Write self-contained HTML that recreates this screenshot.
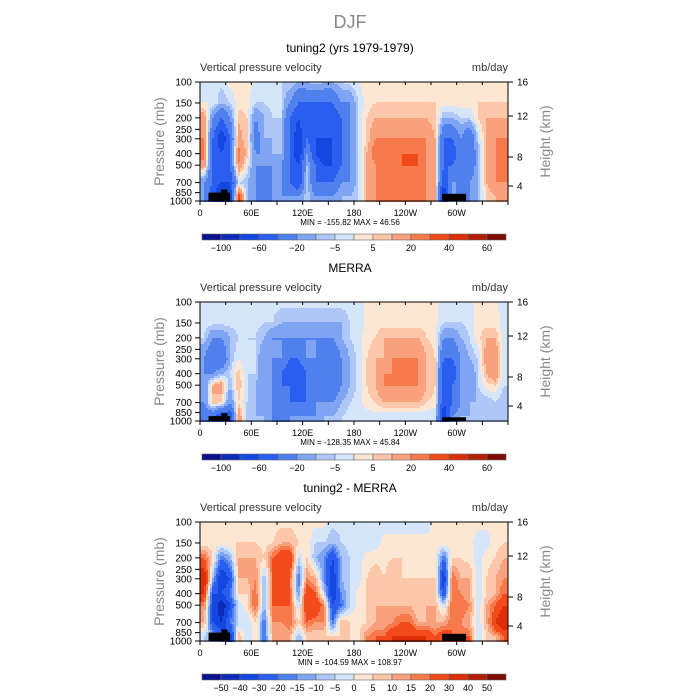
<!DOCTYPE html>
<html><head><meta charset="utf-8">
<style>
body{margin:0;background:#fff;}
#root{position:relative;width:700px;height:700px;overflow:hidden;font-family:"Liberation Sans",sans-serif;}
</style></head>
<body>
<div id="root">
<svg id="svg" width="700" height="700" style="position:absolute;left:0;top:0"></svg>
</div>
<script>
// ---- data ----
const lonCenters = [5,15,25,35,45,55,65,75,85,95,105,115,125,135,145,155,165,175,185,195,205,215,225,235,245,255,265,275,285,295,305,315,325,335,345,355];
const presLevels = [100,150,200,300,400,500,700,925];
const xTickLabels = ["0","60E","120E","180","120W","60W"];
const xTickLons = [0,60,120,180,240,300];
const pTicks = [100,150,200,250,300,400,500,700,850,1000];
const hTicks = [16,12,8,4];
const levelsAbs = [-100,-80,-60,-40,-20,-10,-5,0,5,10,20,30,40,50,60];
const labelsAbs = ["-100","","-60","","-20","","-5","","5","","20","","40","","60"];
const levelsDiff = [-50,-40,-30,-20,-15,-10,-5,0,5,10,15,20,30,40,50];
const labelsDiff = ["-50","-40","-30","-20","-15","-10","-5","0","5","10","15","20","30","40","50"];
const colors = ["#0a0f8c","#0b2bb8","#1446e0","#2a5ef0","#4f80ee","#7fa4f2","#aec7f6","#d6e6fa","#fde6d2","#fcc6aa","#f9a07c","#f77a4c","#f24a1a","#dd2e08","#b41e06","#7e0a04"];
// field columns: each entry = values at presLevels
const fieldModel = [
[-3,0,15,20,25,15,-20,-20],[-3,0,-20,-40,-40,-40,-40,-60],[-3,-10,-40,-80,-60,-60,-60,-100],[2,-5,-20,-40,-40,-40,-60,-80],
[2,3,8,15,25,20,-5,40],[3,2,5,5,8,0,-10,-10],[-2,-5,-20,-30,-20,-20,-20,-20],[-3,-5,-10,-10,-20,-20,-40,-40],
[-3,-3,-5,-10,-10,-20,-20,-20],[-5,-5,-5,-10,-10,-20,-20,-20],[-5,-20,-40,-40,-40,-40,-40,-20],[-10,-40,-60,-80,-80,-60,-60,-20],
[-10,-40,-40,-40,-20,-10,-5,-5],[-5,-40,-60,-60,-60,-40,-40,-20],[-10,-40,-60,-60,-80,-60,-40,-20],[-10,-40,-60,-60,-60,-60,-40,-20],
[-5,-20,-40,-40,-40,-40,-20,-10],[-3,-20,-20,-20,-20,-20,-20,-10],[0,-5,-5,-5,-5,-5,-5,-5],[2,3,5,5,10,10,10,10],
[3,5,10,20,30,20,20,20],[3,5,10,20,20,20,20,20],[3,5,10,20,20,30,20,20],[3,5,10,20,30,30,20,20],
[3,5,10,20,30,30,20,20],[3,5,10,20,30,30,20,20],[3,5,10,20,20,20,20,20],[3,5,5,10,10,10,10,10],
[3,2,-10,-40,-40,-40,-60,-80],[3,2,-10,-40,-60,-40,-20,-10],[3,3,-5,-20,-20,-20,-20,-40],[3,3,-5,-40,-40,-40,-20,-20],
[3,5,5,-5,-10,-10,-10,-10],[3,5,10,10,10,10,10,5],[3,5,10,20,20,20,20,10],[2,5,10,20,20,20,20,10]];
const fieldObs = [
[-3,-3,-5,-20,-20,-20,-20,-40],[-3,-3,-20,-40,-20,10,10,-40],[-3,-3,-20,-40,-10,15,5,-60],[-3,-3,-10,-10,-5,-10,-20,-60],
[-3,-3,-5,0,8,10,5,20],[-3,-3,-5,-5,-5,-5,-5,-10],[-3,-3,-5,-5,-5,-10,-10,-10],[-3,-5,-10,-20,-20,-20,-20,-10],
[-3,-5,-20,-20,-20,-20,-20,-20],[-3,-10,-20,-20,-40,-40,-40,-40],[-3,-10,-20,-40,-60,-40,-40,-20],[-3,-10,-20,-40,-60,-60,-40,-20],
[-3,-10,-20,-20,-40,-40,-40,-20],[-3,-10,-20,-20,-20,-20,-20,-20],[-3,-10,-20,-40,-40,-40,-20,-10],[-3,-10,-20,-40,-40,-40,-20,-10],
[-3,-10,-10,-20,-20,-20,-10,-5],[-3,-5,-5,-10,-10,-10,-5,-3],[-3,-3,-3,-3,-3,-3,-3,-3],[2,2,3,5,5,5,3,-3],
[2,3,5,10,10,10,5,-3],[2,3,10,10,20,20,10,-5],[2,3,10,20,20,20,10,-5],[2,3,10,20,20,20,10,-5],
[2,3,10,20,30,20,10,-5],[2,3,10,20,20,20,10,-5],[2,3,5,10,10,10,5,-5],[2,2,3,5,5,5,3,-5],
[-3,-5,-20,-40,-60,-60,-60,-80],[-3,-5,-20,-40,-60,-40,-40,-20],[-3,-5,-10,-20,-20,-20,-20,-10],[-3,-3,-5,-10,-20,-20,-10,-10],
[2,3,3,-5,-5,-5,-10,-10],[2,3,10,15,10,3,-10,-10],[2,3,10,20,20,5,-5,-10],[-3,-3,-3,-5,-5,-5,-10,-10]];
const fieldDiff = [
[3,2,20,40,30,15,10,-5],[3,2,5,-10,-30,-30,-30,-10],[3,3,-20,-40,-30,-50,-40,-20],[3,5,-10,-30,-20,-30,-20,-40],
[3,5,10,10,5,-5,-5,10],[3,5,10,10,5,5,-5,-5],[3,5,10,15,20,20,5,5],[2,3,5,-10,-10,-10,-20,-20],
[2,5,20,20,20,20,15,10],[3,10,30,30,30,20,15,10],[3,10,30,20,20,20,20,10],[2,5,-5,-20,-15,-5,5,-10],
[2,3,5,15,30,30,20,5],[2,-5,-10,10,20,30,15,5],[2,-5,-15,-15,-5,15,15,5],[-3,-10,-30,-40,-40,-30,-20,5],
[-3,-5,-10,-10,-15,-20,10,5],[-3,-3,-5,-5,-5,-5,5,5],[-3,-3,-3,-3,2,2,3,3],[-3,-3,2,5,5,5,5,15],
[-3,-3,3,10,10,10,10,20],[-3,2,3,5,5,10,10,20],[-3,2,5,10,10,10,15,30],[-3,2,5,5,5,10,20,30],
[-3,2,3,5,5,10,20,30],[-3,2,3,5,5,5,10,30],[-3,2,3,5,5,10,10,30],[2,2,3,5,5,10,10,20],
[2,3,-20,-40,-30,-5,10,30],[2,3,5,20,20,20,20,20],[2,3,5,10,15,20,15,20],[2,2,3,10,10,15,10,20],
[2,-3,-3,-3,-5,-5,-5,-5],[2,-3,3,5,5,10,10,5],[2,3,5,10,10,20,30,10],[2,5,10,15,20,30,40,20]];
const minMax = [["-155.82","46.56"],["-128.35","45.84"],["-104.59","108.97"]];
const titles = ["tuning2 (yrs 1979-1979)","MERRA","tuning2 - MERRA"];

// ---- drawing ----
const NS="http://www.w3.org/2000/svg";
const svg=document.getElementById('svg');
function mk(tag,attrs,parent){const e=document.createElementNS(NS,tag);for(const k in attrs)e.setAttribute(k,attrs[k]);(parent||svg).appendChild(e);return e;}
const X0=200,X1=508,PH=119;
function xScale(lon){return X0+(lon/360)*(X1-X0);}
function yScale(p,top){return top+(Math.log10(p)-2)*PH;}
function hScale(h,top){return top+[0,34,75,104][[16,12,8,4].indexOf(h)];}
function colorFor(v,lev){let i=0;while(i<lev.length&&v>=lev[i])i++;return colors[i];}
function sample(field,lon,p){
  let fx=(lon-5)/10; fx=Math.max(0,Math.min(lonCenters.length-1,fx));
  const i0=Math.floor(fx),i1=Math.min(i0+1,lonCenters.length-1),tx=fx-i0;
  const lp=Math.log10(p);const lps=presLevels.map(Math.log10);
  let j0=0; if(lp<=lps[0]){j0=0;} else if(lp>=lps[lps.length-1]){j0=lps.length-2;} else {while(lps[j0+1]<lp)j0++;}
  let ty=(lp-lps[j0])/(lps[j0+1]-lps[j0]);ty=Math.max(0,Math.min(1,ty));
  const a=field[i0][j0]*(1-ty)+field[i0][j0+1]*ty;
  const b=field[i1][j0]*(1-ty)+field[i1][j0+1]*ty;
  return a*(1-tx)+b*tx;
}
function panel(k,field,lev,labs){
  const top=82+k*220;
  const g=mk('g',{});
  
  
  const t=mk('text',{x:350,y:top-30,'text-anchor':'middle','font-size':12,fill:'#000'},g);t.textContent=titles[k];
  
  const s1=mk('text',{x:200,y:top-11,'font-size':11,fill:'#333'},g);s1.textContent="Vertical pressure velocity";
  
  const s2=mk('text',{x:508,y:top-11,'font-size':11,fill:'#333','text-anchor':'end'},g);s2.textContent="mb/day";
  
  const cells=mk('g',{'shape-rendering':'crispEdges'},g);
  
  const step=2;
  for(let py=top;py<top+PH;py+=step){
    const p=Math.pow(10,2+(py+step/2-top)/PH);
    let runStart=X0,runCol=null;
    for(let px=X0;px<=X1;px+=step){
      let col=null;
      if(px<X1){const lon=(px+step/2-X0)/(X1-X0)*360;col=colorFor(sample(field,lon,p),lev);}
      if(col!==runCol){
        if(runCol!==null){mk('rect',{x:runStart,y:py,width:px-runStart,height:step,fill:runCol},cells);}
        runStart=px;runCol=col;
      }
    }
  }
  const topo=[[10,35,850],[25,32,800],[283,311,870]];
  topo.forEach(tp=>{const pp=tp[2]+(k===1?60:0);const r=mk('rect',{x:xScale(tp[0]),y:yScale(pp,top),width:xScale(tp[1])-xScale(tp[0]),height:top+PH-yScale(pp,top),fill:'#000'},g);
    });
  const fr=mk('rect',{x:X0,y:top,width:X1-X0,height:PH,fill:'none',stroke:'#000','stroke-width':1},g);
  
  pTicks.forEach(p=>{const y=yScale(p,top);mk('line',{x1:195,x2:200,y1:y,y2:y,stroke:'#000'},g);
    const tl=mk('text',{x:192,y:y+3.5,'font-size':10,'text-anchor':'end',fill:'#000'},g);tl.textContent=p;
    });
  hTicks.forEach(h=>{const yy=hScale(h,top);
    mk('line',{x1:508,x2:513,y1:yy,y2:yy,stroke:'#000'},g);
    const hl=mk('text',{x:517,y:yy+3.5,'font-size':10,fill:'#000'},g);hl.textContent=h;
    });
  for(let lon=0;lon<=360;lon+=30){const x=xScale(lon);mk('line',{x1:x,x2:x,y1:top+PH,y2:top+PH+4,stroke:'#000'},g);mk('line',{x1:x,x2:x,y1:top,y2:top+3,stroke:'#000'},g);}
  xTickLons.forEach((lon,i)=>{const xl=mk('text',{x:xScale(lon),y:top+PH+15,'font-size':9,'text-anchor':'middle',fill:'#000'},g);xl.textContent=xTickLabels[i];
    });
  const mm=mk('text',{x:350,y:top+PH+24,'font-size':8,'text-anchor':'middle',fill:'#000'},g);mm.textContent="MIN = "+minMax[k][0]+"   MAX =  "+minMax[k][1];
  
  const yl=mk('text',{x:0,y:0,'font-size':14,fill:'#888','text-anchor':'middle',transform:`translate(164,${top+PH/2}) rotate(-90)`},g);yl.textContent="Pressure (mb)";
  
  const hr=mk('text',{x:0,y:0,'font-size':14,fill:'#888','text-anchor':'middle',transform:`translate(550,${top+PH/2}) rotate(-90)`},g);hr.textContent="Height (km)";
  
  const cb=mk('g',{},g);
  const cy=top+152,bw=19,cx=202;
  colors.forEach((c,i)=>{mk('rect',{x:cx+i*bw,y:cy,width:bw,height:6,fill:c,stroke:'#666','stroke-width':0.6},cb);});
  labs.forEach((l,i)=>{if(!l)return;const tl=mk('text',{x:cx+(i+1)*bw,y:cy+17,'font-size':9,'text-anchor':'middle',fill:'#000'},cb);tl.textContent=l.replace('-','\u2212');
    });
}
const mt=mk('text',{x:350,y:28,'font-size':18,'text-anchor':'middle',fill:'#888'});mt.textContent="DJF";

panel(0,fieldModel,levelsAbs,labelsAbs);
panel(1,fieldObs,levelsAbs,labelsAbs);
panel(2,fieldDiff,levelsDiff,labelsDiff);
</script>
</body></html>
